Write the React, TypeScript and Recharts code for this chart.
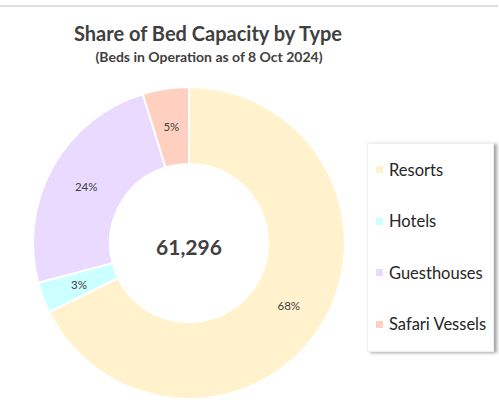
import { Pie, PieChart, Cell } from "recharts";

const categories = ["Resorts", "Hotels", "Guesthouses", "Safari Vessels"];
const beds = [41500, 1960, 14900, 2936];
const colors = ["#FFF2CC", "#CCFFFF", "#EBDAFF", "#FFD0C0"];
const totalLabel = "61,296";

const data = categories.map((name, i) => ({ name, value: beds[i] }));

const FONT = "Lato, 'Open Sans', sans-serif";
const RAD = Math.PI / 180;

function renderPct(props: any) {
  const { cx, cy, midAngle, innerRadius, outerRadius, percent } = props;
  const r = (innerRadius + outerRadius) / 2;
  const x = cx + r * Math.cos(-midAngle * RAD);
  const y = cy + r * Math.sin(-midAngle * RAD);
  return (
    <text
      x={x}
      y={y}
      textAnchor="middle"
      dominantBaseline="central"
      fontSize={11.5}
      fontFamily={FONT}
      fill="#404040"
    >
      {Math.round(percent * 100)}%
    </text>
  );
}

function LegendBox() {
  return (
    <div
      style={{
        position: "absolute",
        left: 367,
        top: 143,
        width: 127,
        height: 209,
        background: "#fff",
        border: "1px solid #eee",
        boxShadow: "3px 1px 3px rgba(0,0,0,0.35)",
        boxSizing: "border-box",
        fontFamily: FONT,
      }}
    >
      {categories.map((c, i) => (
        <div
          key={c}
          style={{ display: "flex", alignItems: "center", height: 51.5, paddingLeft: 8 }}
        >
          <span
            style={{ width: 7, height: 7, background: colors[i], display: "inline-block", marginRight: 6 }}
          />
          <span style={{ fontSize: 16.5, color: "#262626" }}>{c}</span>
        </div>
      ))}
    </div>
  );
}

export default function App() {
  return (
    <div
      style={{
        position: "fixed",
        left: 0,
        top: 0,
        width: 499,
        height: 410,
        background: "#fff",
        overflow: "hidden",
      }}
    >
      <div style={{ position: "absolute", left: 0, top: 5, width: 498, height: 2, background: "#dedede" }} />
      <div style={{ position: "absolute", left: 0, top: 0 }}>
        <PieChart width={499} height={410} margin={{ top: 0, right: 0, bottom: 0, left: 0 }}>
          <Pie
            data={data}
            dataKey="value"
            nameKey="name"
            cx={189}
            cy={243}
            innerRadius={79}
            outerRadius={156}
            startAngle={90}
            endAngle={-270}
            stroke="#fff"
            strokeWidth={2}
            label={renderPct}
            labelLine={false}
            isAnimationActive={false}
          >
            {data.map((d, i) => (
              <Cell key={d.name} fill={colors[i]} />
            ))}
          </Pie>
        </PieChart>
      </div>
      <div
        style={{
          position: "absolute",
          left: 0,
          width: 416,
          top: 21,
          textAlign: "center",
          fontFamily: FONT,
          fontWeight: 700,
          fontSize: 20,
          color: "#404040",
        }}
      >
        Share of Bed Capacity by Type
      </div>
      <div
        style={{
          position: "absolute",
          left: 0,
          width: 418,
          top: 48,
          textAlign: "center",
          fontFamily: FONT,
          fontWeight: 700,
          fontSize: 14,
          color: "#404040",
        }}
      >
        (Beds in Operation as of 8 Oct 2024)
      </div>
      <div
        style={{
          position: "absolute",
          left: 89,
          width: 200,
          top: 233,
          textAlign: "center",
          fontFamily: FONT,
          fontWeight: 700,
          fontSize: 21,
          lineHeight: "28px",
          color: "#404040",
        }}
      >
        {totalLabel}
      </div>
      <LegendBox />
    </div>
  );
}
